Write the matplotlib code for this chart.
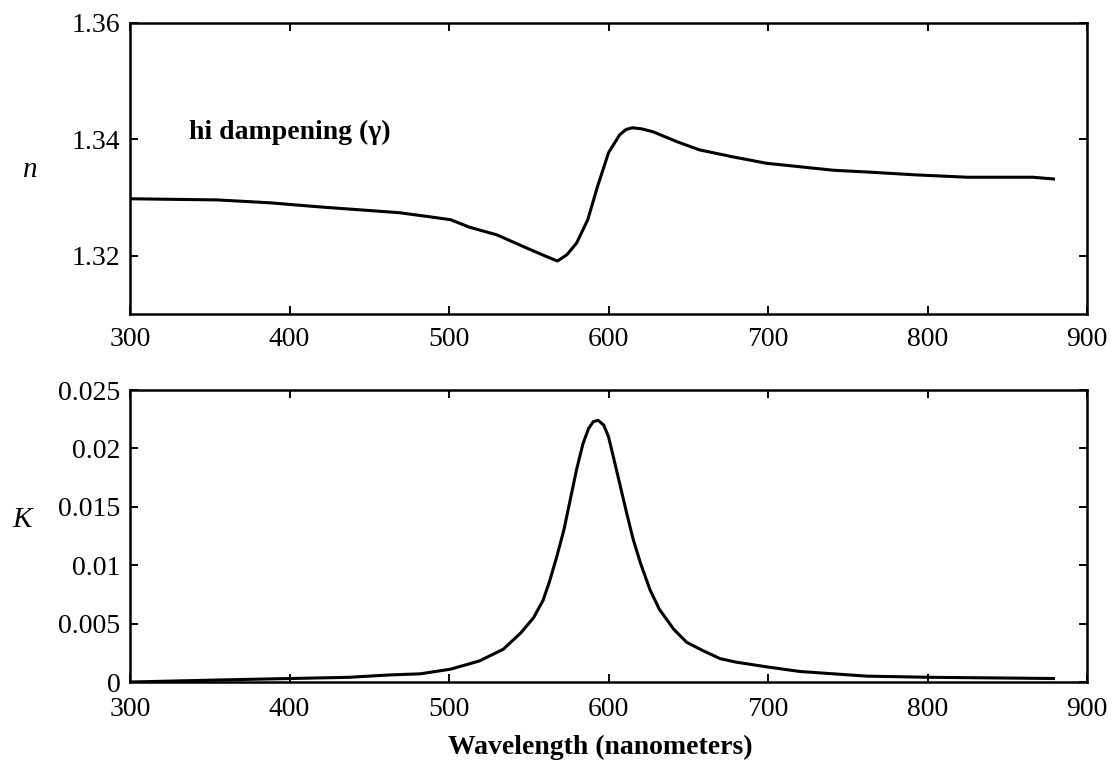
import matplotlib
matplotlib.use("Agg")
from matplotlib import pyplot as plt

plt.rcParams["font.family"] = ["Liberation Serif", "DejaVu Serif"]

# refractive index n (top panel)
wl_n = [300, 355, 388, 419, 469, 488, 501, 513, 530, 549, 560, 568, 574,
        580, 587, 593, 600, 607, 611, 615, 621, 628, 643, 657, 678, 699,
        720, 741, 762, 793, 825, 866, 879]
n_vals = [1.3298, 1.3296, 1.3291, 1.3284, 1.3274, 1.3267, 1.3262, 1.3249,
          1.3236, 1.3213, 1.3200, 1.3191, 1.3202, 1.3222, 1.3262, 1.3318,
          1.3377, 1.3408, 1.3417, 1.3420, 1.3418, 1.3413, 1.3396, 1.3382,
          1.3370, 1.3359, 1.3353, 1.3347, 1.3344, 1.3339, 1.3335, 1.3335,
          1.3332]

# extinction coefficient K (bottom panel)
wl_k = [300, 365, 437, 462, 482, 501, 519, 534, 545, 553, 559, 563, 567.5,
        572, 576, 580, 584, 587.5, 590.5, 593.5, 597, 600, 603, 607, 611.5,
        615.5, 620, 626, 632, 641, 649, 659, 670, 680, 699, 720, 762, 803, 879]
k_vals = [0.0, 0.0002, 0.0004, 0.0006, 0.0007, 0.0011, 0.0018, 0.0028,
          0.0042, 0.0055, 0.0070, 0.0086, 0.0107, 0.0130, 0.0156, 0.0182,
          0.0204, 0.0217, 0.0223, 0.0224, 0.0220, 0.0210, 0.0193, 0.0170,
          0.0144, 0.0122, 0.0102, 0.0079, 0.0062, 0.0045, 0.0034, 0.0027,
          0.0020, 0.0017, 0.0013, 0.0009, 0.0005, 0.0004, 0.0003]

x_ticks = [300, 400, 500, 600, 700, 800, 900]
n_ticks = [1.32, 1.34, 1.36]
n_labels = ["1.32", "1.34", "1.36"]
k_ticks = [0, 0.005, 0.01, 0.015, 0.02, 0.025]
k_labels = ["0", "0.005", "0.01", "0.015", "0.02", "0.025"]

W, H = 1113, 773
fig = plt.figure(figsize=(W / 100, H / 100), dpi=100)
ax1 = fig.add_axes([130 / W, 1 - 314 / H, 957 / W, 291 / H])
ax2 = fig.add_axes([130 / W, 1 - 682 / H, 957 / W, 292 / H])

for ax in (ax1, ax2):
    ax.set_xlim(300, 900)
    ax.set_xticks(x_ticks)
    ax.set_xticklabels([str(t) for t in x_ticks])
    ax.tick_params(direction="in", top=True, right=True, length=6, width=1.4,
                   labelsize=20, pad=7)
    for s in ax.spines.values():
        s.set_linewidth(1.8)

ax1.tick_params(axis="x", pad=9)
ax2.tick_params(axis="x", pad=11)

ax1.plot(wl_n, n_vals, color="black", lw=2.2)
ax1.set_ylim(1.31, 1.36)
ax1.set_yticks(n_ticks)
ax1.set_yticklabels(n_labels)
ax1.text(337, 1.3412, "hi dampening (\u03b3)", fontsize=20, fontweight="bold",
         va="center", ha="left")

ax2.plot(wl_k, k_vals, color="black", lw=2.2)
ax2.set_ylim(0, 0.025)
ax2.set_yticks(k_ticks)
ax2.set_yticklabels(k_labels)

fig.text(30 / W, 1 - 170 / H, "n", fontsize=21, style="italic",
         ha="center", va="center")
fig.text(22 / W, 1 - 520 / H, "K", fontsize=21, style="italic",
         ha="center", va="center")
fig.text(600 / W, 1 - 747 / H, "Wavelength (nanometers)", fontsize=20,
         fontweight="bold", ha="center", va="center")

fig.savefig("out.png", dpi=100)
